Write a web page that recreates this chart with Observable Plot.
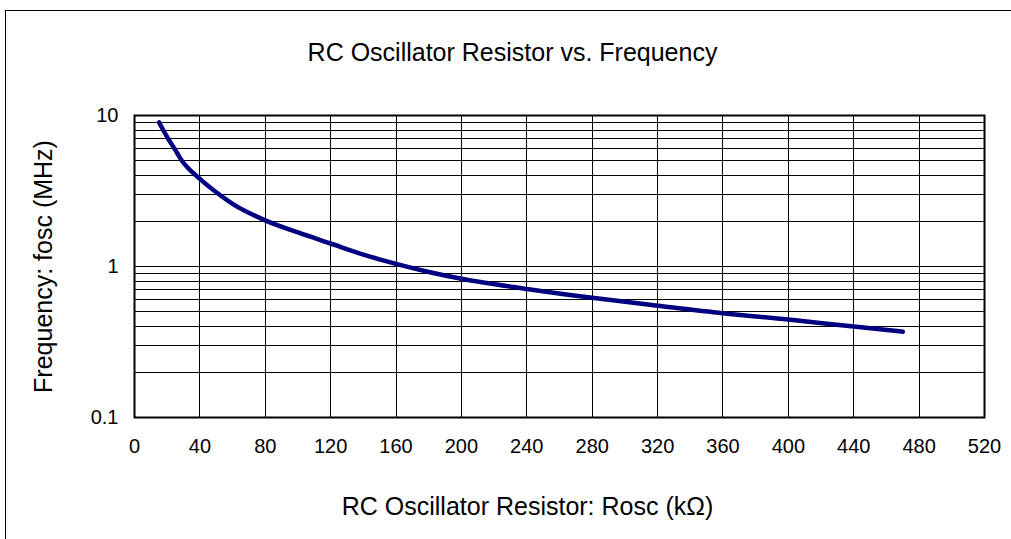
<!DOCTYPE html>
<html><head><meta charset="utf-8">
<script src="https://cdn.jsdelivr.net/npm/d3@7"></script>
<script src="https://cdn.jsdelivr.net/npm/@observablehq/plot@0.6"></script>
<style>
body{margin:0;background:#fff;font-family:"Liberation Sans",Arial,sans-serif;}
#wrap{position:relative;width:1011px;height:539px;overflow:hidden;}
#border{position:absolute;left:5px;top:10px;width:1100px;height:600px;border:1.5px solid #000;box-sizing:border-box;}
#chart{position:absolute;left:0;top:0;}
</style></head><body>
<div id="wrap"><div id="border"></div><div id="chart"></div></div>
<script>
const titleText = "RC Oscillator Resistor vs. Frequency";
const xLabelText = "RC Oscillator Resistor: Rosc (kΩ)";
const yLabelText = "Frequency: fosc (MHz)";
const resistance = [15, 20, 25, 28, 40, 50, 60, 80, 100, 120, 140, 160, 180, 200, 240, 280, 320, 360, 400, 440, 470];
const frequency  = [9.0, 7.2, 5.9, 5.2, 3.8, 3.1, 2.6, 2.02, 1.68, 1.42, 1.2, 1.04, 0.92, 0.83, 0.71, 0.62, 0.55, 0.49, 0.445, 0.40, 0.37];
const xTicks = [0, 40, 80, 120, 160, 200, 240, 280, 320, 360, 400, 440, 480, 520];
const yTicks = [0.1, 1, 10];
const yGrid = [0.1,0.2,0.3,0.4,0.5,0.6,0.7,0.8,0.9,1,2,3,4,5,6,7,8,9,10];

const data = resistance.map((r, i) => ({r, f: frequency[i]}));
const font = "'Liberation Sans', Arial, sans-serif";

const chart = Plot.plot({
  width: 1011, height: 539,
  marginLeft: 134, marginRight: 27, marginTop: 115, marginBottom: 122,
  style: {fontFamily: font, fontSize: "20px", background: "transparent", color: "#000"},
  x: {domain: [0, 520]},
  y: {type: "log", domain: [0.1, 10]},
  marks: [
    Plot.ruleX(xTicks, {stroke: "#000", strokeWidth: 1, shapeRendering: "crispEdges"}),
    Plot.ruleY(yGrid, {stroke: "#000", strokeWidth: 1, shapeRendering: "crispEdges"}),
    Plot.frame({stroke: "#000", strokeWidth: 2}),
    Plot.line(data, {x: "r", y: "f", stroke: "#000080", strokeWidth: 4.5, curve: "monotone-x"}),
    Plot.axisX({ticks: xTicks, tickSize: 0, tickPadding: 21, label: null, tickFormat: d => String(d), fontSize: 20}),
    Plot.axisY({ticks: yTicks, tickSize: 0, tickPadding: 16, label: null, tickFormat: d => String(d), fontSize: 20}),
    Plot.text([titleText], {frameAnchor: "top", dx: -47, dy: -72, fontSize: 25, fill: "#000"}),
    Plot.text([xLabelText], {frameAnchor: "bottom", dx: -32, dy: 97, fontSize: 25, fill: "#000"}),
    Plot.text([yLabelText], {frameAnchor: "left", textAnchor: "middle", dx: -91, rotate: -90, fontSize: 25, fill: "#000"})
  ]
});
document.getElementById("chart").appendChild(chart);
</script>
</body></html>
